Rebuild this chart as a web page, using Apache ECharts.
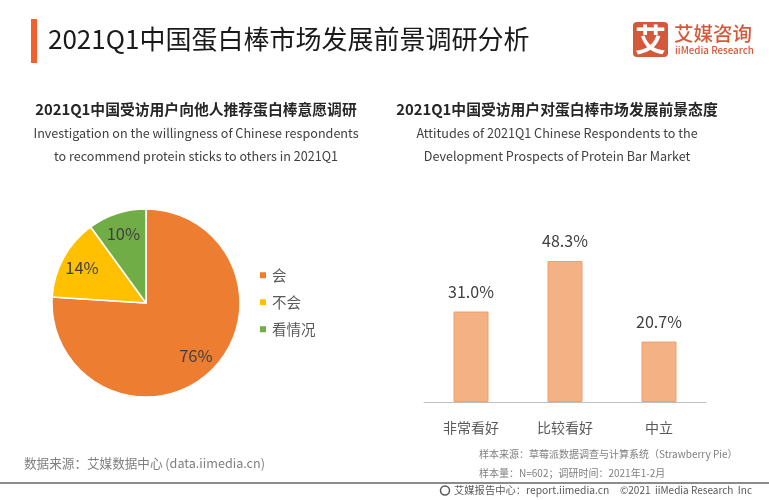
<!DOCTYPE html>
<html lang="zh-CN">
<head>
    <meta charset="UTF-8">
    <title>2021Q1中国蛋白棒市场发展前景调研分析</title>
    <script src="https://cdn.jsdelivr.net/npm/echarts/dist/echarts.min.js"></script>
    <style>
        html, body { margin: 0; padding: 0; background: #fff; }
        #chart { width: 769px; height: 500px; }
    </style>
</head>
<body>
    <div id="chart"></div>
    <script>
        const pieNames = ['会', '不会', '看情况'];
        const pieValues = [76, 14, 10];
        const pieColors = ['#ED7D31', '#FFC000', '#70AD47'];

        const barCategories = ['非常看好', '比较看好', '中立'];
        const barValues = [31.0, 48.3, 20.7];

        const FONT = '"Noto Sans CJK SC", "Noto Sans", sans-serif';

        const pieData = pieNames.map((name, i) => ({
            name: name,
            value: pieValues[i],
            itemStyle: { color: pieColors[i] }
        }));

        function text(x, y, str, size, color, align, weight) {
            return {
                type: 'text', x: x, y: y, silent: true,
                style: {
                    text: str, fill: color, font: (weight || 'normal') + ' ' + size + 'px ' + FONT,
                    textAlign: align || 'left', textVerticalAlign: 'middle'
                }
            };
        }

        const chart = echarts.init(document.getElementById('chart'));
        chart.setOption({
            animation: false,
            textStyle: { fontFamily: FONT },
            legend: {
                orient: 'vertical', left: 258, top: 268, padding: 0, itemWidth: 8, itemHeight: 8, itemGap: 12.5,
                icon: 'rect', data: pieNames,
                textStyle: { fontSize: 14.5, color: '#595959', fontFamily: FONT }
            },
            grid: { left: 424, top: 200, width: 282, height: 202 },
            xAxis: {
                type: 'category', data: barCategories,
                axisLine: { lineStyle: { color: '#BFBFBF', width: 1 } },
                axisTick: { show: false },
                axisLabel: { fontSize: 14, color: '#595959', margin: 19, fontFamily: FONT }
            },
            yAxis: { type: 'value', min: 0, max: 69.2, show: false },
            series: [
                {
                    type: 'pie', center: [146, 303], radius: [0, 94], startAngle: 90, clockwise: true,
                    data: pieData, silent: true,
                    itemStyle: { borderColor: '#fff', borderWidth: 1.5 },
                    label: { show: false }
                },
                {
                    // transparent ring, only carries the percent labels
                    type: 'pie', center: [146, 303], radius: [46, 94], startAngle: 90, clockwise: true,
                    data: pieData.map(d => ({ name: d.name, value: d.value })), silent: true,
                    itemStyle: { color: 'transparent' },
                    label: {
                        show: true, position: 'inside', formatter: '{c}%',
                        fontSize: 16.5, color: '#404040', fontFamily: FONT
                    }
                },
                {
                    type: 'bar', data: barValues, barWidth: 35,
                    itemStyle: { color: '#F4B183', borderColor: '#F0A06A', borderWidth: 1 },
                    label: {
                        show: true, position: 'top', distance: 12, fontSize: 16, color: '#404040',
                        fontFamily: FONT, formatter: p => p.value.toFixed(1) + '%'
                    }
                }
            ],
            graphic: [
                { type: 'rect', shape: { x: 31, y: 19, width: 6, height: 44 }, style: { fill: '#F4602C' }, silent: true },
                text(48, 39, '2021Q1中国蛋白棒市场发展前景调研分析', 26, '#1a1a1a'),

                { type: 'rect', shape: { x: 633, y: 22, width: 35, height: 35, r: 4 }, style: { fill: '#D4593A' }, silent: true },
                text(650.5, 39, '艾', 31, '#fff', 'center', 'bold'),
                text(674, 34, '艾媒咨询', 19.5, '#D4593A', 'left', '500'),
                text(675, 50, 'iiMedia Research', 9.8, '#D4593A', 'left', '500'),

                text(196, 109, '2021Q1中国受访用户向他人推荐蛋白棒意愿调研', 14.8, '#262626', 'center', 'bold'),
                text(196, 133, 'Investigation on the willingness of Chinese respondents', 12.6, '#404040', 'center'),
                text(196, 156, 'to recommend protein sticks to others in 2021Q1', 12.6, '#404040', 'center'),

                text(557, 109, '2021Q1中国受访用户对蛋白棒市场发展前景态度', 14.8, '#262626', 'center', 'bold'),
                text(557, 133, 'Attitudes of 2021Q1 Chinese Respondents to the', 12.6, '#404040', 'center'),
                text(557, 156, 'Development Prospects of Protein Bar Market', 12.6, '#404040', 'center'),

                text(24, 463, '数据来源：艾媒数据中心 (data.iimedia.cn)', 12.6, '#7f7f7f'),
                text(479, 454, '样本来源：草莓派数据调查与计算系统（Strawberry Pie）', 10, '#7f7f7f'),
                text(479, 473, '样本量：N=602；调研时间：2021年1-2月', 10, '#7f7f7f'),

                { type: 'rect', shape: { x: 0, y: 482, width: 769, height: 2 }, style: { fill: '#8C8C8C' }, silent: true },
                { type: 'circle', shape: { cx: 445, cy: 490.5, r: 4.5 }, style: { fill: 'none', stroke: '#595959', lineWidth: 1.5 }, silent: true },
                text(454, 490, '艾媒报告中心：report.iimedia.cn', 10.3, '#595959'),
                text(620, 490, '©2021  iiMedia Research  Inc', 10, '#595959')
            ]
        });
    </script>
</body>
</html>
